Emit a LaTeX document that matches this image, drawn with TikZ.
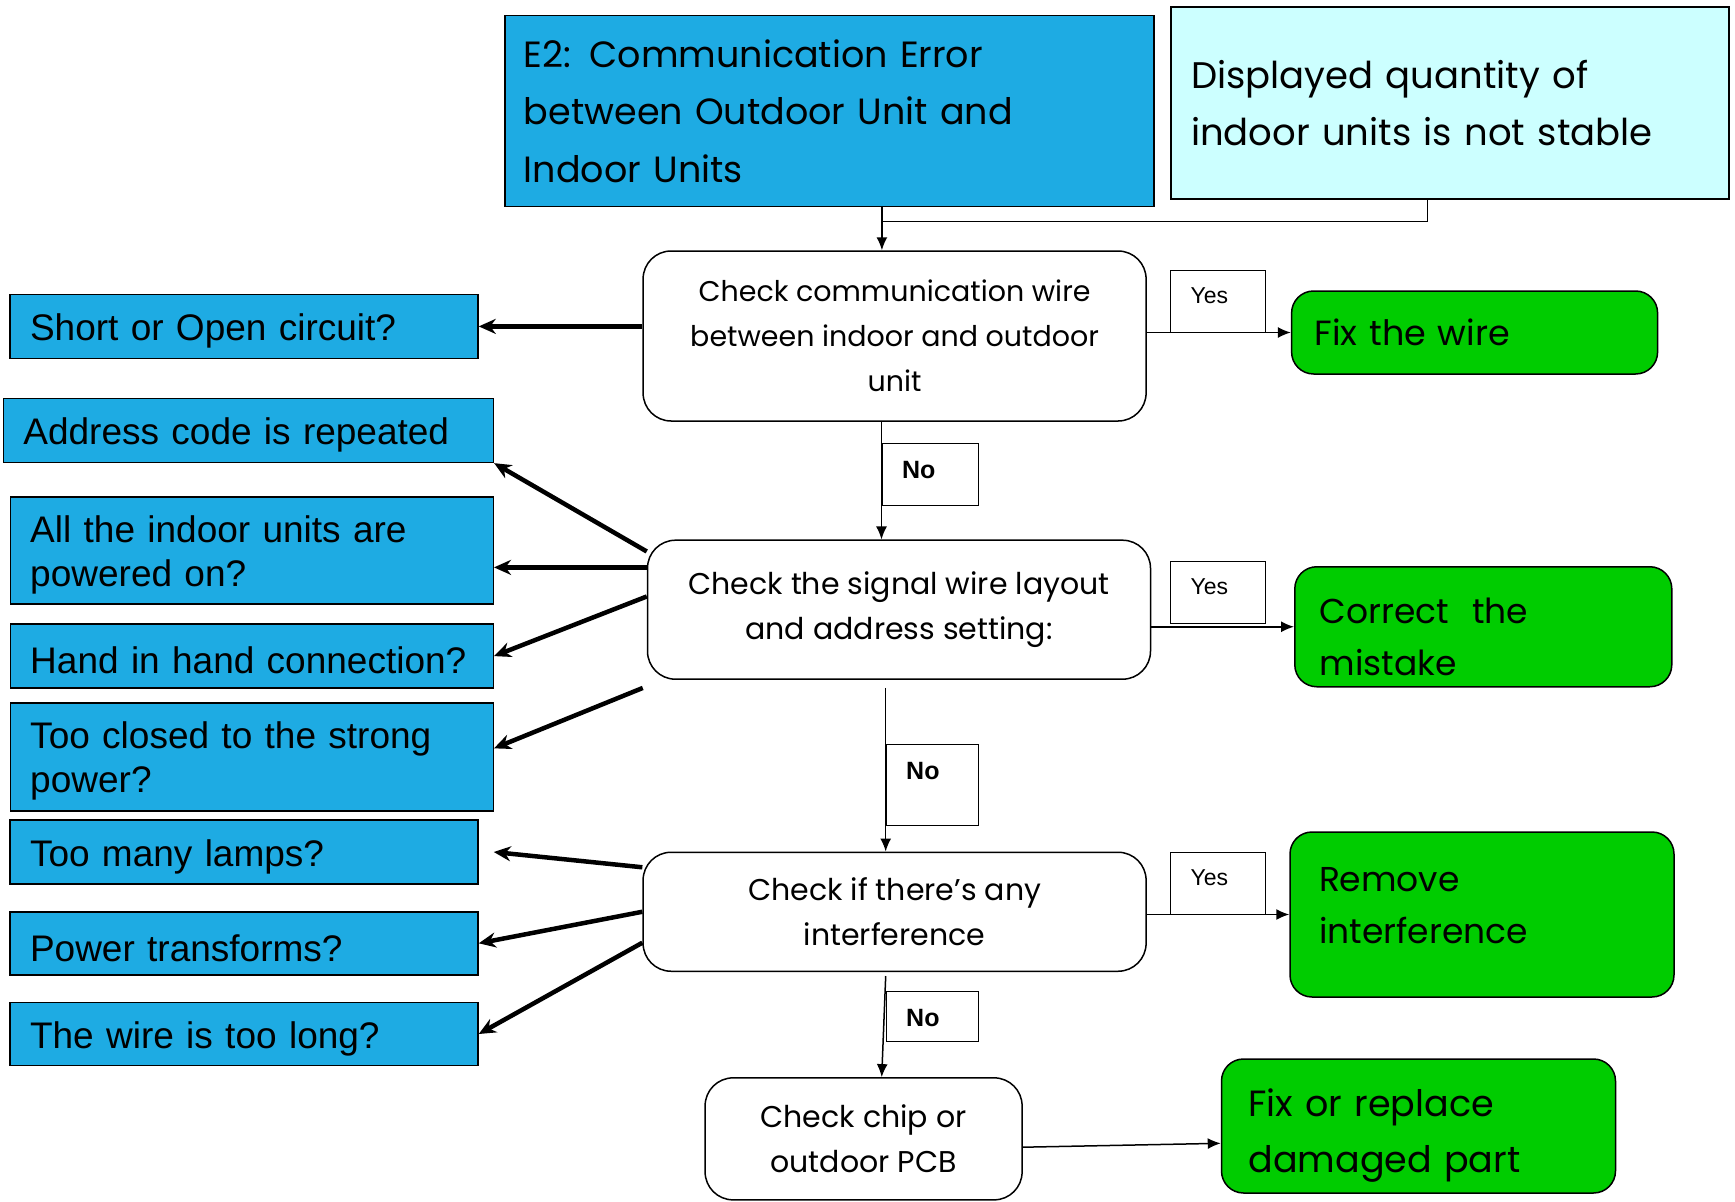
\documentclass[tikz,border=0pt]{standalone}
\usepackage{fontspec}
\usepackage{tikz}
\usetikzlibrary{arrows.meta}

\newfontfamily\geofont{Poppins}
\newfontfamily\arialfont{Liberation Sans}

\definecolor{causeblue}{RGB}{30,171,227}
\definecolor{noteblue}{RGB}{204,255,255}
\definecolor{fixgreen}{RGB}{0,204,0}

\tikzset{
  errbox/.style={draw, line width=1.5pt, align=left, inner xsep=19pt, inner ysep=0pt,
    font=\geofont\fontsize{36.5}{57.5}\selectfont},
  cause/.style={draw, line width=1.5pt, fill=causeblue, align=left, inner xsep=20pt,
    inner ysep=0pt, text height=36pt, font=\arialfont\fontsize{37}{44}\selectfont},
  check/.style={draw, line width=1.5pt, fill=white, rounded corners=28pt, align=center,
    inner sep=0pt, font=\geofont\fontsize{30}{44.8}\selectfont},
  fixbox/.style={draw, line width=1.5pt, fill=fixgreen, rounded corners=22pt, align=left,
    inner ysep=0pt, font=\geofont\fontsize{35}{52}\selectfont},
  yestag/.style={draw, line width=1pt, align=left, inner xsep=20pt, inner ysep=0pt,
    text width=55pt, text height=33pt, text depth=29pt,
    font=\arialfont\fontsize{23}{23}\selectfont},
  notag/.style={draw, line width=1pt, align=left, inner xsep=20pt, inner ysep=0pt,
    text height=35pt, font=\arialfont\bfseries\fontsize{25}{25}\selectfont},
  flow/.style={line width=1.5pt, -{Latex[length=13pt,width=11pt]}},
  why/.style={line width=4.5pt, -{Stealth[length=17pt,width=15pt]}}
}

\begin{document}
\begin{tikzpicture}[x=1pt,y=1pt,yscale=-1]
\useasboundingbox (0,0) rectangle (1735,1202);

% top boxes
\node[errbox, fill=causeblue, text width=611pt, minimum height=191pt] (e2) at (829.4,111.2)
  {E2: Communication Error\\between Outdoor Unit and\\Indoor Units};
\node[errbox, fill=noteblue, inner xsep=20pt, text width=518pt, minimum height=192pt,
  font=\geofont\fontsize{37}{57.5}\selectfont] (disp) at (1450,102.9)
  {Displayed quantity of\\indoor units is not stable};

% checks
\node[check, minimum width=503pt, minimum height=170pt,
  font=\geofont\fontsize{28.5}{44.8}\selectfont] (chk1) at (894.6,336)
  {Check communication wire\\between indoor and outdoor\\unit};
\node[check, minimum width=503pt, minimum height=139pt] (chk2) at (899,609.7)
  {Check the signal wire layout\\and address setting:};
\node[check, minimum width=503pt, minimum height=119pt] (chk3) at (894.6,911.75)
  {Check if there’s any\\interference};
\node[check, minimum width=317pt, minimum height=122pt] (chk4) at (863.6,1138.85)
  {Check chip or\\outdoor PCB};

% causes
\node[cause, text width=428pt, minimum height=64pt] (short) at (244,326.4) {Short or Open circuit?};
\node[cause, text width=450pt, minimum height=64pt] (addr) at (248.4,430.4) {Address code is repeated};
\node[cause, text width=443pt, minimum height=107pt] (allon) at (251.75,550.45)
  {All the indoor units are\\powered on?};
\node[cause, text width=443pt, minimum height=64pt] (hand) at (251.75,656.1) {Hand in hand connection?};
\node[cause, text width=443pt, minimum height=108pt] (strong) at (251.75,756.8)
  {Too closed to the strong\\power?};
\node[cause, text width=428pt, minimum height=64pt] (lamps) at (244,852) {Too many lamps?};
\node[cause, text width=428pt, minimum height=63pt] (trans) at (244,943.3) {Power transforms?};
\node[cause, text width=428pt, minimum height=63pt] (long) at (244,1034) {The wire is too long?};

% fixes
\node[fixbox, inner xsep=23pt, text width=320pt, minimum height=83pt] (fixw) at (1474.6,332.5) {Fix the wire};
\node[fixbox, inner xsep=25pt, text width=327pt, minimum height=120pt, text height=46pt,
  font=\geofont\fontsize{34.5}{52}\selectfont] (corr) at (1483.3,626.75)
  {Correct\ \ the\\mistake};
\node[fixbox, inner xsep=29pt, text width=326pt, minimum height=165pt, text depth=70pt,
  font=\geofont\fontsize{34.5}{52}\selectfont] (remv) at (1482,914.5)
  {Remove\\interference};
\node[fixbox, inner xsep=27pt, text width=340pt, minimum height=134pt, text height=47pt,
  font=\geofont\fontsize{36.5}{56}\selectfont] (fixr) at (1418.5,1126)
  {Fix or replace\\damaged part};

% yes / no tags
\node[yestag] (yes1) at (1218,301) {Yes};
\node[yestag] (yes2) at (1218,592) {Yes};
\node[yestag] (yes3) at (1218,883) {Yes};
\node[notag, text width=56pt, text depth=27pt] (no1) at (930,474.7) {No};
\node[notag, text width=52pt, text depth=46pt] (no2) at (932.2,785.1) {No};
\node[notag, text width=52pt, text depth=14.6pt] (no3) at (932.2,1016.2) {No};

% main flow
\coordinate (jn) at (881.9,221.3);
\coordinate (brk) at (1427.4,221.3);
\draw[line width=1pt] (disp.south -| brk) |- (jn);
\draw[flow] (e2.south -| jn) -- (chk1.north -| jn);
\draw[flow] (no1.west |- chk1.south) -- (no1.west |- chk2.north);
\draw[flow] ([yshift=8pt]no2.west |- chk2.south) -- (no2.west |- chk3.north);
\draw[flow] ([yshift=4pt]no3.west |- chk3.south) -- ([xshift=-4pt]no3.west |- chk4.north);
\draw[flow] (chk1.east |- fixw.west) -- (fixw.west);
\draw[flow] (chk2.east |- corr.west) -- (corr.west);
\draw[flow] (chk3.east |- remv.west) -- (remv.west);
\draw[flow] (chk4.-3.6) -- (fixr.185);

% causes arrows
\draw[why] (chk1.west |- short.east) -- (short.east);
\draw[why] (chk2.167) -- (addr.south east);
\draw[why] (chk2.west |- allon.-4) -- (allon.-4);
\draw[why] (chk2.177) -- (hand.east);
\draw[why] ([shift={(-4,8)}]chk2.south west) -- (strong.2);
\draw[why] (chk3.170.5) -- ([xshift=15pt]lamps.east);
\draw[why] (chk3.west) -- (trans.east);
\draw[why] (chk3.187.2) -- (long.east);

\end{tikzpicture}
\end{document}
